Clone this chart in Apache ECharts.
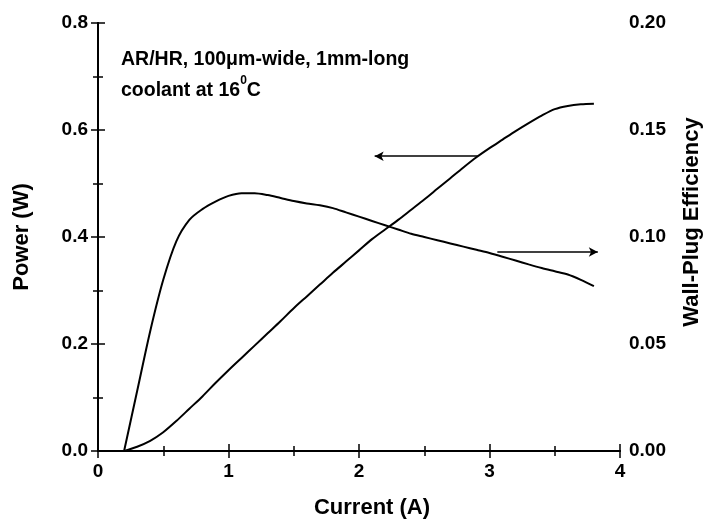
<!DOCTYPE html>
<html><head><meta charset="utf-8">
<script src="https://cdn.jsdelivr.net/npm/echarts@6/dist/echarts.min.js"></script>
<style>html,body{margin:0;padding:0;background:#fff}#c{width:711px;height:524px}</style>
</head><body><div id="c"></div>
<script>
const current = [0.2,0.3,0.4,0.5,0.6,0.7,0.8,0.9,1.0,1.1,1.2,1.3,1.4,1.5,1.6,1.7,1.8,1.9,2.0,2.1,2.2,2.3,2.4,2.5,2.6,2.7,2.8,2.9,3.0,3.1,3.2,3.3,3.4,3.5,3.6,3.7,3.8];
const power = [0,0.008,0.019,0.035,0.056,0.079,0.102,0.127,0.151,0.174,0.197,0.22,0.243,0.267,0.289,0.311,0.333,0.354,0.375,0.396,0.414,0.432,0.451,0.47,0.49,0.51,0.53,0.549,0.566,0.582,0.598,0.613,0.627,0.639,0.645,0.648,0.649];
const efficiency = [0,0.028,0.056,0.080,0.098,0.108,0.113,0.1165,0.1192,0.1205,0.1205,0.1196,0.1182,0.1168,0.1157,0.1148,0.1135,0.1115,0.1095,0.1075,0.1055,0.1035,0.1015,0.1,0.0985,0.097,0.0955,0.094,0.0925,0.0908,0.089,0.0872,0.0855,0.084,0.0825,0.080,0.077];
const xTicks = [0,1,2,3,4];
const leftArrow = [[2.91,0.551],[2.12,0.551]];
const rightArrow = [[3.06,0.372],[3.83,0.372]];
const annotation = ['AR/HR, 100\u03bcm-wide, 1mm-long', 'coolant at 16'];

const F = 'Liberation Sans, Arial, Helvetica, sans-serif';
const axLine = {show:true, lineStyle:{color:'#000', width:2}};
const lbl = {color:'#000', fontFamily:F, fontWeight:'bold', fontSize:19};
const nameSt = {color:'#000', fontFamily:F, fontWeight:'bold', fontSize:22};
const tick = {inside:true, length:7, lineStyle:{color:'#000', width:1.5}};
const minor = {show:true, splitNumber:2, length:5, lineStyle:{color:'#000', width:1.5}};
const chart = echarts.init(document.getElementById('c'));
chart.setOption({
  animation:false,
  backgroundColor:'#fff',
  title:{
    left:116, top:39,
    text:'{a|' + annotation[0] + '}\n{a|' + annotation[1] + '}{s|0}{a|C}',
    textStyle:{rich:{
      a:{fontFamily:F, fontWeight:'bold', fontSize:19.5, color:'#000', lineHeight:31},
      s:{fontFamily:F, fontWeight:'bold', fontSize:12, color:'#000', verticalAlign:'top', lineHeight:31, padding:[0,0,12,0]}
    }}
  },
  grid:{left:98, right:83, top:23, bottom:68},
  xAxis:[{
    type:'value', min:0, max:4, interval:1, position:'bottom',
    name:'Current (A)', nameLocation:'middle', nameGap:46,
    nameTextStyle:Object.assign({padding:[0,0,0,26]}, nameSt),
    axisLine:axLine, axisTick:tick, minorTick:minor,
    axisLabel:Object.assign({margin:11, formatter:v=>xTicks.includes(v)?String(v):''}, lbl),
    splitLine:{show:false}
  },{
    type:'value', min:0, max:4, interval:1, position:'top',
    axisLine:axLine, axisTick:tick, minorTick:minor,
    axisLabel:{show:false}, splitLine:{show:false}
  }],
  yAxis:[{
    type:'value', min:0, max:0.8, interval:0.2, position:'left',
    name:'Power (W)', nameLocation:'middle', nameGap:65, nameTextStyle:nameSt,
    axisLine:axLine, axisTick:tick, minorTick:minor,
    axisLabel:Object.assign({margin:10, formatter:v=>v.toFixed(1)}, lbl),
    splitLine:{show:false}
  },{
    type:'value', min:0, max:0.2, interval:0.05, position:'right',
    name:'Wall-Plug Efficiency', nameLocation:'middle', nameGap:61,
    nameTextStyle:Object.assign({padding:[0,0,0,30]}, nameSt),
    axisLine:axLine, axisTick:tick, minorTick:minor,
    axisLabel:Object.assign({margin:9, formatter:v=>v.toFixed(2)}, lbl),
    splitLine:{show:false}
  }],
  series:[{
    type:'line', name:'Power', xAxisIndex:0, yAxisIndex:0, smooth:0.3, showSymbol:false,
    lineStyle:{color:'#000', width:2},
    data:current.map((c,i)=>[c,power[i]]),
    markLine:{
      silent:true, symbol:['none','arrow'], symbolSize:[7,9],
      label:{show:false},
      lineStyle:{color:'#000', width:1.5, type:'solid'},
      data:[
        [{coord:leftArrow[0]},{coord:leftArrow[1]}],
        [{coord:rightArrow[0]},{coord:rightArrow[1]}]
      ]
    }
  },{
    type:'line', name:'Efficiency', xAxisIndex:0, yAxisIndex:1, smooth:0.3, showSymbol:false,
    lineStyle:{color:'#000', width:2},
    data:current.map((c,i)=>[c,efficiency[i]])
  }]
});
</script></body></html>
